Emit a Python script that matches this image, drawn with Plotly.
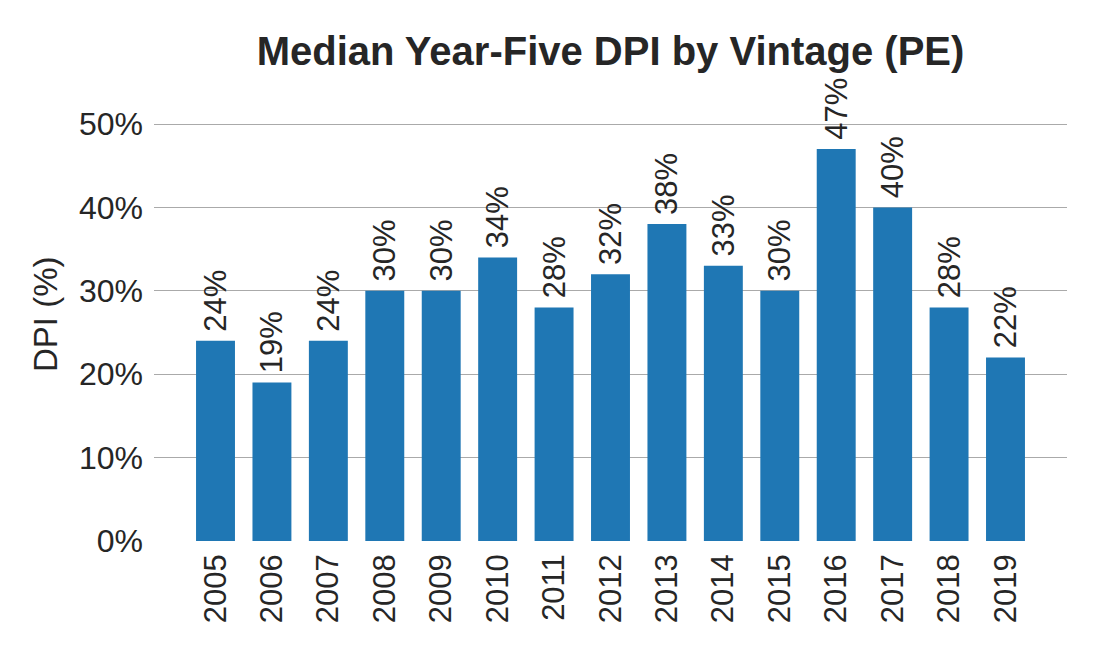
import plotly.graph_objects as go

years = [str(y) for y in range(2005, 2020)]
dpi = [24, 19, 24, 30, 30, 34, 28, 32, 38, 33, 30, 47, 40, 28, 22]
labels = [f"\u2009{v}%" for v in dpi]
yticks = [0, 10, 20, 30, 40, 50]
ytick_text = [f"{v}%" for v in yticks]

L, R, T, B = 146, 41, 91, 127
plot_w = 1100 - L - R

fig = go.Figure(go.Bar(
    x=years, y=dpi, text=labels, textposition="outside", textangle=-90,
    constraintext="none",
    marker=dict(color="#1f77b4", line=dict(width=0)), width=0.69,
    textfont=dict(size=31, color="#262626", family="Liberation Sans"),
    cliponaxis=False,
))

fig.update_layout(
    width=1100, height=660,
    margin=dict(l=L, r=R, t=T, b=B),
    paper_bgcolor="white", plot_bgcolor="white",
    font=dict(family="Liberation Sans", color="#262626"),
    title=dict(text="<b>Median Year-Five DPI by Vintage (PE)</b>", x=0.5, xanchor="center",
               xref="paper", y=0.935, yanchor="middle", font=dict(size=40, color="#262626")),
    showlegend=False,
    annotations=[dict(text="DPI (%)", textangle=-90, xref="paper", yref="paper",
                      x=(37 - L) / plot_w, y=0.5, yshift=6, xanchor="center", yanchor="middle",
                      showarrow=False, font=dict(size=33, color="#262626"))],
)
fig.update_xaxes(type="category", range=[-1.09, 15.09], tickangle=-90, automargin=False,
                 tickfont=dict(size=31), showgrid=False, showline=False, ticks="", ticklen=0,
                 ticklabelstandoff=6)
fig.update_yaxes(range=[0, 53], tickvals=yticks, ticktext=ytick_text, tickfont=dict(size=32),
                 automargin=False, ticklabelstandoff=10,
                 showgrid=True, gridcolor="#aaaaaa", gridwidth=1, zeroline=True, zerolinecolor="white",
                 showline=False, ticks="")

fig.write_html("out.html")
